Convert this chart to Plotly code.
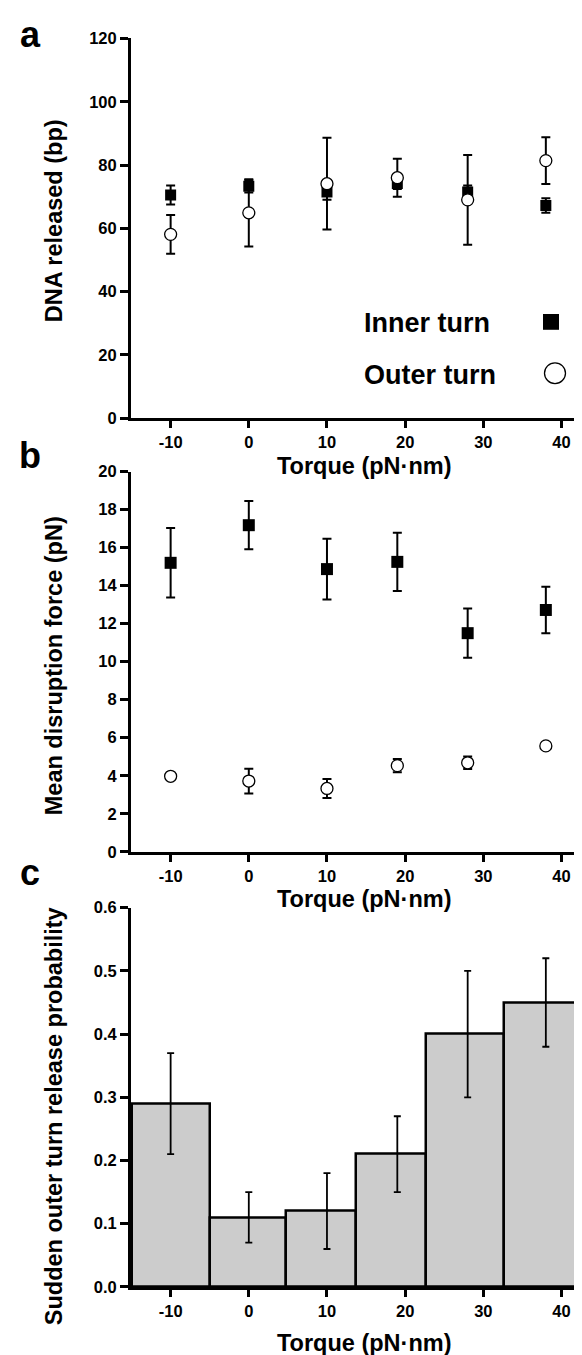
import plotly.graph_objects as go

W, H = 582, 1355

# ---------------- data ----------------
torque = [-10, 0, 10, 19, 28, 38]
tick_vals_x = [-10, 0, 10, 20, 30, 40]
tick_text_x = ["-10", "0", "10", "20", "30", "40"]

# panel a: DNA released (bp)
inner_dna = [70.5, 73.3, 71.5, 74.2, 71.5, 67.2]
inner_dna_err = [3.0, 2.0, 2.5, 1.8, 2.0, 2.3]
outer_dna = [58.1, 64.9, 74.1, 76.0, 69.0, 81.4]
outer_dna_err = [6.1, 10.6, 14.5, 6.0, 14.2, 7.4]

# panel b: mean disruption force (pN)
inner_force = [15.2, 17.18, 14.87, 15.25, 11.5, 12.72]
inner_force_err = [1.83, 1.27, 1.6, 1.53, 1.3, 1.22]
outer_force = [3.97, 3.72, 3.33, 4.53, 4.68, 5.57]
outer_force_err = [0.1, 0.65, 0.5, 0.35, 0.33, 0.1]

# panel c: sudden outer turn release probability
prob = [0.29, 0.11, 0.12, 0.21, 0.40, 0.45]
prob_err = [0.08, 0.04, 0.06, 0.06, 0.10, 0.07]
bin_edges = [-15.0, -5.0, 4.7, 13.7, 22.7, 32.7, 42.8]

bin_centers = [(a + b) / 2 for a, b in zip(bin_edges[:-1], bin_edges[1:])]
bin_widths = [b - a for a, b in zip(bin_edges[:-1], bin_edges[1:])]

FONT = "Liberation Sans, Arial, Helvetica, sans-serif"


def px_x(p):
    return p / W


def px_y(p):
    return 1 - p / H


fig = go.Figure()

# ---- panel a ----
fig.add_trace(go.Scatter(
    x=torque, y=inner_dna, mode="markers", name="Inner turn",
    marker=dict(symbol="square", size=11, color="black", line=dict(width=0)),
    error_y=dict(type="data", array=inner_dna_err, color="black", thickness=2, width=4.5),
    xaxis="x", yaxis="y", showlegend=False))
fig.add_trace(go.Scatter(
    x=torque, y=outer_dna, mode="markers", name="Outer turn",
    marker=dict(symbol="circle", size=12, color="white", line=dict(width=1.3, color="black")),
    error_y=dict(type="data", array=outer_dna_err, color="black", thickness=2, width=4.5),
    xaxis="x", yaxis="y", showlegend=False))

# ---- panel b ----
fig.add_trace(go.Scatter(
    x=torque, y=inner_force, mode="markers", name="Inner turn",
    marker=dict(symbol="square", size=12, color="black", line=dict(width=0)),
    error_y=dict(type="data", array=inner_force_err, color="black", thickness=2, width=4.5),
    xaxis="x2", yaxis="y2", showlegend=False))
fig.add_trace(go.Scatter(
    x=torque, y=outer_force, mode="markers", name="Outer turn",
    marker=dict(symbol="circle", size=12, color="white", line=dict(width=1.3, color="black")),
    error_y=dict(type="data", array=outer_force_err, color="black", thickness=2, width=4.5),
    xaxis="x2", yaxis="y2", showlegend=False))

# ---- panel c ----
fig.add_trace(go.Bar(
    x=bin_centers, y=prob, width=bin_widths,
    marker=dict(color="#cccccc", line=dict(color="black", width=2.5)),
    xaxis="x3", yaxis="y3", showlegend=False))
fig.add_trace(go.Scatter(
    x=torque, y=prob, mode="markers",
    marker=dict(size=1, color="rgba(0,0,0,0)"),
    error_y=dict(type="data", array=prob_err, color="black", thickness=1.8, width=3.5),
    xaxis="x3", yaxis="y3", showlegend=False, hoverinfo="skip"))

xdom = [px_x(123), 1.0]
xrange_ = [-15.07, 43.65]
tickfont = dict(family=FONT, size=16.5, color="black", weight="bold")

xcommon = dict(domain=xdom, range=xrange_, tickmode="array", tickvals=tick_vals_x,
               ticktext=tick_text_x,
               showline=True, linecolor="black", linewidth=3, ticks="outside",
               ticklen=7, tickwidth=2.5, tickcolor="black", showgrid=False,
               zeroline=False, tickfont=tickfont)
ycommon = dict(showline=True, linecolor="black", linewidth=3, ticks="outside",
               ticklen=8, tickwidth=2.5, tickcolor="black", showgrid=False,
               zeroline=False, tickfont=tickfont, tickmode="linear")

fig.update_layout(
    width=W, height=H,
    margin=dict(l=0, r=0, t=0, b=0),
    paper_bgcolor="white", plot_bgcolor="white",
    xaxis=dict(**xcommon, anchor="y"),
    yaxis=dict(**ycommon, anchor="x", domain=[px_y(406.7), px_y(21.7)],
               range=[0, 120], tick0=0, dtick=20),
    xaxis2=dict(**xcommon, anchor="y2"),
    yaxis2=dict(**ycommon, anchor="x2", domain=[px_y(846), px_y(460.7)],
                range=[0, 20], tick0=0, dtick=2),
    xaxis3=dict(**xcommon, anchor="y3"),
    yaxis3=dict(**ycommon, anchor="x3", domain=[px_y(1287), px_y(902.7)],
                range=[0, 0.6], tick0=0, dtick=0.1, tickformat=".1f"),
    bargap=0,
)

anns = []
title_font = dict(family=FONT, size=23.5, color="black", weight="bold")
# x axis titles
for ypix in [455, 894, 1344]:
    anns.append(dict(text="Torque (pN·nm)", x=px_x(356), y=px_y(ypix), xref="paper", yref="paper",
                     xanchor="center", yanchor="middle", showarrow=False, font=title_font))
# y axis titles
for txt, ypix in [("DNA released (bp)", 207), ("Mean disruption force (pN)", 658),
                  ("Sudden outer turn release probability", 1114)]:
    anns.append(dict(text=txt, x=px_x(46), y=px_y(ypix), xref="paper", yref="paper",
                     xanchor="center", yanchor="middle", textangle=-90, showarrow=False,
                     font=title_font))
# panel letters
letter_font = dict(family=FONT, size=36, color="black", weight="bold")
for txt, ypix in [("a", 18), ("b", 444), ("c", 867)]:
    anns.append(dict(text=txt, x=px_x(22), y=px_y(ypix), xref="paper", yref="paper",
                     xanchor="center", yanchor="middle", showarrow=False, font=letter_font))
# legend text
leg_font = dict(family=FONT, size=27, color="black", weight="bold")
for txt, ypix in [("Inner turn", 310), ("Outer turn", 363)]:
    anns.append(dict(text=txt, x=px_x(354), y=px_y(ypix), xref="paper", yref="paper",
                     xanchor="left", yanchor="middle", showarrow=False, font=leg_font))
fig.update_layout(annotations=anns)

# legend glyphs
fig.add_shape(type="rect", xref="paper", yref="paper",
              x0=px_x(535), x1=px_x(551), y0=px_y(317), y1=px_y(301),
              fillcolor="black", line=dict(width=0))
fig.add_shape(type="circle", xref="paper", yref="paper",
              x0=px_x(536.5), x1=px_x(557.5), y0=px_y(371.5), y1=px_y(350.5),
              fillcolor="white", line=dict(color="black", width=1.3))

fig.write_html("out.html")
